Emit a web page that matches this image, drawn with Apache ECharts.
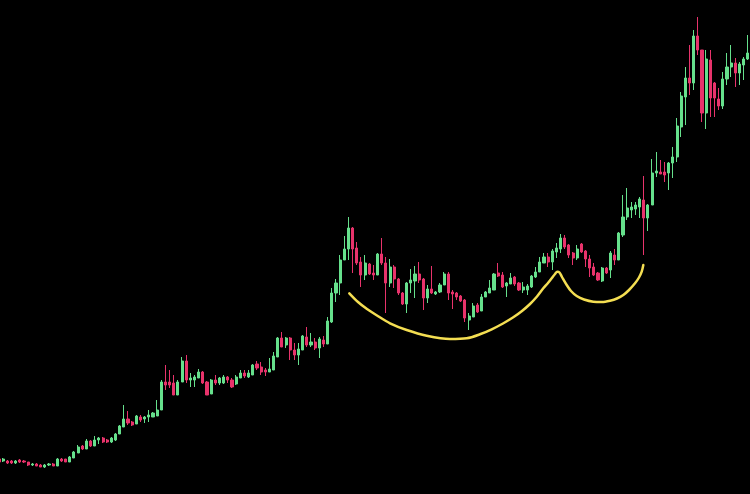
<!DOCTYPE html>
<html>
<head>
<meta charset="utf-8">
<script src="https://cdn.jsdelivr.net/npm/echarts@6/dist/echarts.min.js"></script>
<style>
html,body{margin:0;padding:0;background:#000;overflow:hidden;width:750px;height:494px;position:relative;}
#c{position:absolute;left:-3px;top:0;width:757px;height:494px;}
</style>
</head>
<body>
<div id="c"></div>
<script>
// OHLC values per candle (price units)
var opens = [35,33,33,33,31,34,33,32,29,30,29,27,29,30,28,35,35,32,36,41,48,45,53,48,54,56,54,52,54,60,
67,75,72,70,77,75,77,77,78,84,112,112,111,99,112,133,114,114,116,122,112,100,114,111,111,117,114,110,116,121,
117,119,130,127,124,122,124,137,156,149,156,144,139,144,157,149,152,146,154,150,172,201,211,234,245,266,246,232,219,230,
221,219,240,231,211,227,215,201,190,211,213,220,215,196,205,200,202,209,220,202,201,198,194,174,177,189,183,197,201,204,
221,219,208,210,217,211,204,204,207,217,222,231,237,232,242,245,256,249,241,236,250,243,235,227,221,213,226,224,239,234,
259,277,284,285,287,294,276,289,321,322,322,321,331,337,367,397,416,411,458,444,381,434,411,395,388,415,427,431,421,429,
435,441];
var closes = [32,35,31,31,33,32,32,29,30,28,27,29,30,28,35,33,32,37,42,47,45,53,48,54,56,52,52,56,60,68,
75,71,69,78,74,77,79,81,84,112,109,109,99,112,133,114,116,117,122,111,99,114,111,116,117,114,107,117,121,118,
121,129,126,122,122,125,138,156,147,156,144,139,145,158,149,152,146,155,150,173,201,211,234,245,266,245,231,219,231,220,
219,240,231,211,227,215,201,190,211,214,220,214,196,205,201,202,209,220,201,200,197,193,176,178,188,182,197,202,206,220,
218,207,211,216,210,204,207,208,218,222,232,237,232,243,246,256,247,239,236,245,242,235,226,219,214,226,221,241,234,261,
277,286,287,289,295,276,289,321,323,320,319,331,337,368,398,416,411,458,444,381,435,396,396,388,415,427,431,421,430,435,
441,459];
var lows = [31,32,30,30,30,31,31,28,28,28,27,26,28,28,28,32,32,32,36,41,44,45,47,48,50,51,51,51,53,60,
67,69,68,70,72,71,72,77,78,84,104,106,99,99,112,111,107,107,116,110,99,100,109,109,110,111,106,109,116,116,
116,119,124,119,118,122,124,137,147,146,134,134,129,144,147,147,144,136,147,150,171,192,199,234,234,221,229,207,214,219,
214,219,229,181,207,206,199,189,181,201,196,211,184,191,200,199,201,209,194,185,194,192,172,164,177,181,183,197,201,204,
217,206,197,210,208,203,201,199,206,216,222,231,227,224,236,241,245,236,229,234,241,227,217,218,213,212,220,216,229,234,
257,274,276,279,276,239,263,289,317,320,312,304,316,332,357,369,399,404,439,372,365,377,377,384,385,409,417,407,409,414,
434,438];
var highs = [36,36,34,34,34,35,34,32,31,31,30,30,31,31,36,36,35,38,43,49,49,55,54,58,57,57,55,57,61,69,
89,83,73,79,79,78,84,82,94,114,129,124,119,114,137,139,121,119,125,123,113,115,119,117,119,118,116,119,124,124,
124,130,133,132,126,136,142,157,162,157,157,151,151,159,167,161,156,157,158,177,206,215,239,258,277,267,252,237,239,231,
229,241,256,237,235,229,216,202,212,225,228,232,216,209,228,203,211,222,222,204,202,199,195,181,191,191,200,203,214,221,
231,222,212,221,218,212,212,210,219,227,237,241,241,245,251,260,259,250,242,249,251,244,239,231,222,227,227,243,245,262,
299,306,292,292,297,318,290,335,342,334,332,332,347,376,402,427,449,464,477,444,444,444,412,406,422,441,449,436,432,437,
459,462];

// Hand-drawn cup-and-handle annotation: [candle index, price]
var cupCurve = [[84.20,200.7],[86.29,192],[88.46,185],[90.86,178.5],[93.99,170.7],[98.00,164],[102.81,158.3],
[108.41,155],[112.43,155.7],[115.62,159.7],[118.44,164.7],[121.15,170.5],[123.63,176.7],[125.72,183],[127.65,190],
[129.33,197.5],[130.84,205.7],[131.97,211],[132.86,215.7],[133.66,220],[134.21,222.3],[134.74,221.5],[135.34,217],
[136.47,209],[137.50,203],[138.87,198],[140.63,194.5],[142.87,192.3],[144.96,192],[146.88,193.3],[148.56,195.5],
[150.08,199],[151.45,204],[152.89,210.7],[153.85,216.5],[154.50,222.3],[154.89,229]];

var categories = opens.map(function (_, i) { return String(i + 1); });
var ohlc = opens.map(function (o, i) { return [o, closes[i], lows[i], highs[i]]; });

var chart = echarts.init(document.getElementById('c'));
var gridBox = { left: 0, right: 0, top: 0, bottom: 0 };
chart.setOption({
  backgroundColor: '#000000',
  animation: false,
  grid: [
    Object.assign({}, gridBox),
    Object.assign({}, gridBox)
  ],
  xAxis: [
    { type: 'category', data: categories, show: false, gridIndex: 0 },
    { type: 'value', min: -0.5, max: categories.length - 0.5, show: false, gridIndex: 1 }
  ],
  yAxis: [
    { type: 'value', min: 0, max: 494, show: false, gridIndex: 0 },
    { type: 'value', min: 0, max: 494, show: false, gridIndex: 1 }
  ],
  series: [
    {
      type: 'candlestick',
      xAxisIndex: 0, yAxisIndex: 0,
      data: ohlc,
      barWidth: 2.6,
      itemStyle: {
        color: '#66e08c',
        color0: '#e8336b',
        borderColor: '#66e08c',
        borderColor0: '#e8336b',
        borderWidth: 1
      }
    },
    {
      type: 'line',
      xAxisIndex: 1, yAxisIndex: 1,
      data: cupCurve,
      smooth: 0.3,
      symbol: 'none',
      lineStyle: { color: '#f4de52', width: 2.5, cap: 'round', join: 'round' }
    }
  ]
});
</script>
</body>
</html>
